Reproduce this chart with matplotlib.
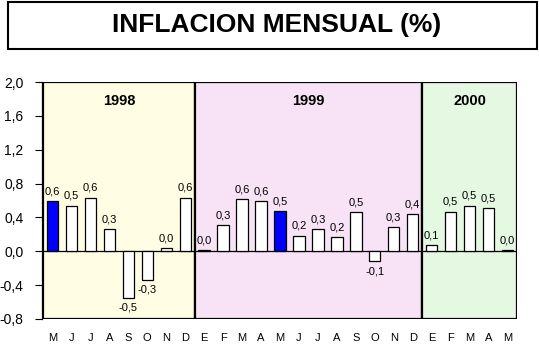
import matplotlib.pyplot as plt
from matplotlib.patches import Rectangle

plt.rcParams['font.family'] = ['Liberation Sans', 'DejaVu Sans']

months = ['M', 'J', 'J', 'A', 'S', 'O', 'N', 'D',
          'E', 'F', 'M', 'A', 'M', 'J', 'J', 'A', 'S', 'O', 'N', 'D',
          'E', 'F', 'M', 'A', 'M']
values = [0.59, 0.535, 0.63, 0.26, -0.547, -0.335, 0.035, 0.63,
          0.01, 0.307, 0.615, 0.59, 0.473, 0.18, 0.26, 0.165, 0.46, -0.12, 0.284, 0.437,
          0.07, 0.47, 0.54, 0.51, 0.01]
labels = ['0,6', '0,5', '0,6', '0,3', '-0,5', '-0,3', '0,0', '0,6',
          '0,0', '0,3', '0,6', '0,6', '0,5', '0,2', '0,3', '0,2', '0,5', '-0,1', '0,3', '0,4',
          '0,1', '0,5', '0,5', '0,5', '0,0']
highlight = [0, 12]
years = ['1998', '1999', '2000']
year_counts = [8, 12, 5]
year_colors = ['#fffee4', '#f8e2f6', '#e4f8e2']
yticks = [-0.8, -0.4, 0.0, 0.4, 0.8, 1.2, 1.6, 2.0]

fig = plt.figure(figsize=(5.39, 3.57), dpi=100)

# title box
fig.patches.append(Rectangle((8 / 539, 1 - 49 / 357), 529 / 539, 47 / 357,
                             transform=fig.transFigure, fill=False,
                             edgecolor='black', linewidth=1.5))
fig.text(277 / 539, 1 - 25 / 357, 'INFLACION MENSUAL (%)', ha='center', va='center',
         fontsize=19, fontweight='bold')

ax = fig.add_axes([43 / 539, 38 / 357, 474 / 539, 237 / 357])
ax.set_xlim(-0.5, len(months) - 0.5)
ax.set_ylim(-0.8, 2.0)

start = -0.5
for name, n, col in zip(years, year_counts, year_colors):
    ax.add_patch(Rectangle((start, -0.8), n, 2.8, facecolor=col,
                           edgecolor='black', linewidth=1.6, zorder=0))
    ax.text(start + n / 2, 1.78, name, ha='center', va='center',
            fontsize=10.5, fontweight='bold')
    start += n

ax.axhline(0, color='black', linewidth=0.9, zorder=1)

x = list(range(len(months)))
colors = ['#0000ff' if i in highlight else 'white' for i in x]
ax.bar(x, values, width=0.6, color=colors, edgecolor='black', linewidth=0.9, zorder=2)

for i, (v, lab) in enumerate(zip(values, labels)):
    if v >= 0:
        ax.text(i, v + 0.06, lab, ha='center', va='bottom', fontsize=8)
    else:
        ax.text(i, v - 0.06, lab, ha='center', va='top', fontsize=8)

ax.set_xticks(x)
ax.set_xticklabels(months, fontsize=8)
ax.tick_params(axis='x', length=0, pad=10)
ax.set_yticks(yticks)
ax.set_yticklabels([f'{t:.1f}'.replace('.', ',') for t in yticks], fontsize=8)
ax.tick_params(axis='y', direction='out', length=5, width=0.8, pad=8)

for s in ['top', 'right', 'bottom']:
    ax.spines[s].set_visible(False)
ax.spines['left'].set_linewidth(0.9)
ax.spines['left'].set_position(('outward', 1))

fig.savefig('out.png', dpi=100)
